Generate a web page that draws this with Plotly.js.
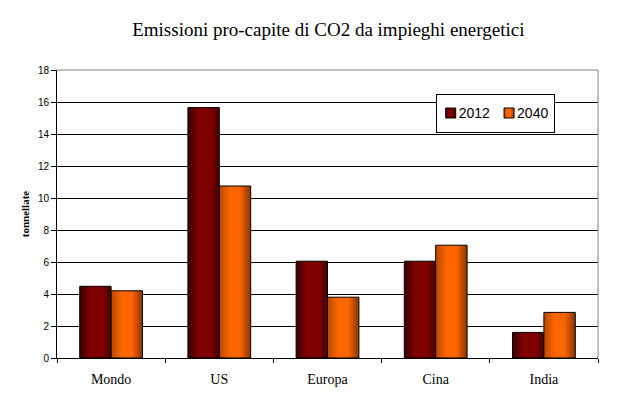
<!DOCTYPE html>
<html>
<head>
<meta charset="utf-8">
<script src="https://cdn.plot.ly/plotly-3.0.1.min.js"></script>
<style>html,body{margin:0;padding:0;background:#fff;}</style>
</head>
<body>
<div id="chart" style="width:623px;height:395px;"></div>
<script>
const categories = ["Mondo", "US", "Europa", "Cina", "India"];
const values2012 = [4.48, 15.65, 6.05, 6.05, 1.6];
const values2040 = [4.2, 10.75, 3.8, 7.05, 2.85];
const seriesNames = ["2012", "2040"];
const yTicks = [0, 2, 4, 6, 8, 10, 12, 14, 16, 18];

const traces = [
  {type: "bar", name: seriesNames[0], x: categories, y: values2012,
   marker: {color: "#800000", line: {color: "#000", width: 1}}},
  {type: "bar", name: seriesNames[1], x: categories, y: values2040,
   marker: {color: "#FF6600", line: {color: "#000", width: 1}}}
];

const layout = {
  width: 623, height: 395,
  margin: {l: 57, r: 25, t: 70, b: 37},
  paper_bgcolor: "#fff", plot_bgcolor: "#fff",
  barmode: "group", bargap: 0.42, bargroupgap: 0,
  title: {text: "Emissioni pro-capite di CO2 da impieghi energetici",
          font: {family: "Liberation Serif, serif", size: 19, color: "#000"},
          x: 0.527, xanchor: "center", y: 0.925, yanchor: "middle"},
  xaxis: {type: "category", showline: true, linecolor: "#000", linewidth: 1,
          ticks: "outside", tickson: "boundaries", ticklen: 4, tickcolor: "#000",
          showgrid: false, ticklabelstandoff: 8,
          tickfont: {family: "Liberation Serif, serif", size: 14, color: "#000"}},
  yaxis: {range: [0, 18], tickvals: yTicks, ticktext: yTicks.map(String),
          showline: true, linecolor: "#000", linewidth: 1,
          ticks: "outside", ticklen: 5, tickcolor: "#000",
          showgrid: true, gridcolor: "#000", gridwidth: 1, zeroline: false,
          tickfont: {family: "Liberation Sans, Arial, sans-serif", size: 10, color: "#000"},
          title: {text: "<b>tonnellate</b>", standoff: 6,
                  font: {family: "Liberation Serif, serif", size: 11, color: "#000"}}},
  legend: {orientation: "h", x: 0.70, xanchor: "left", y: 0.917, yanchor: "top",
           bgcolor: "#fff", bordercolor: "#000", borderwidth: 1,
           font: {family: "Liberation Sans, Arial, sans-serif", size: 14, color: "#000"},
           itemwidth: 30, traceorder: "normal"},
  shapes: [
    {type: "line", xref: "paper", yref: "paper", x0: 0, x1: 1, y0: 1, y1: 1,
     line: {color: "#808080", width: 1}},
    {type: "line", xref: "paper", yref: "paper", x0: 1, x1: 1, y0: 0, y1: 1,
     line: {color: "#808080", width: 1}}
  ],
  showlegend: true
};

Plotly.newPlot("chart", traces, layout, {staticPlot: true, displayModeBar: false}).then(gd => {
  const svg = gd.querySelector("svg.main-svg");
  const ns = "http://www.w3.org/2000/svg";
  let defs = svg.querySelector("defs");
  if (!defs) { defs = document.createElementNS(ns, "defs"); svg.insertBefore(defs, svg.firstChild); }
  const grads = {
    g0: [["0", "#3a0000"], ["0.35", "#800000"], ["0.7", "#800000"], ["1", "#4a0000"]],
    g1: [["0", "#b84800"], ["0.35", "#ff6600"], ["0.65", "#ff6600"], ["1", "#8a3400"]]
  };
  Object.keys(grads).forEach(id => {
    const lg = document.createElementNS(ns, "linearGradient");
    lg.setAttribute("id", id);
    lg.setAttribute("x1", "0"); lg.setAttribute("x2", "1");
    lg.setAttribute("y1", "0"); lg.setAttribute("y2", "0");
    grads[id].forEach(([o, c]) => {
      const s = document.createElementNS(ns, "stop");
      s.setAttribute("offset", o); s.setAttribute("stop-color", c);
      lg.appendChild(s);
    });
    defs.appendChild(lg);
  });
  gd.querySelectorAll(".barlayer .trace").forEach((tr, i) => {
    tr.querySelectorAll(".point path").forEach(p => { p.style.fill = "url(#g" + i + ")"; });
  });

  // Compact the legend entries (small swatch right next to its label)
  const D = 18, extraH = 5;
  const items = gd.querySelectorAll(".legend .traces");
  items.forEach((it, k) => {
    const tf = it.getAttribute("transform") || "";
    const m = tf.match(/translate\(([-\d.]+)[ ,]+([-\d.]+)\)/);
    if (m) it.setAttribute("transform", "translate(" + (parseFloat(m[1]) - k * D) + "," + (parseFloat(m[2]) + extraH / 2) + ")");
    const t = it.querySelector("text.legendtext");
    if (t) t.setAttribute("x", parseFloat(t.getAttribute("x")) - D);
    it.querySelectorAll(".legendpoints path").forEach((p, j) => {
      p.setAttribute("d", "M5,5H-5V-5H5Z");
      p.setAttribute("transform", "translate(14,0)");
      p.style.fill = "url(#g" + k + ")";
    });
  });
  const bg = gd.querySelector(".legend rect.bg");
  if (bg) {
    bg.setAttribute("width", parseFloat(bg.getAttribute("width")) - D * items.length);
    bg.setAttribute("height", parseFloat(bg.getAttribute("height")) + extraH);
  }
  gd.querySelectorAll("clipPath[id*='legend'] rect").forEach(r => {
    r.setAttribute("height", parseFloat(r.getAttribute("height")) + extraH);
  });
});
</script>
</body>
</html>
